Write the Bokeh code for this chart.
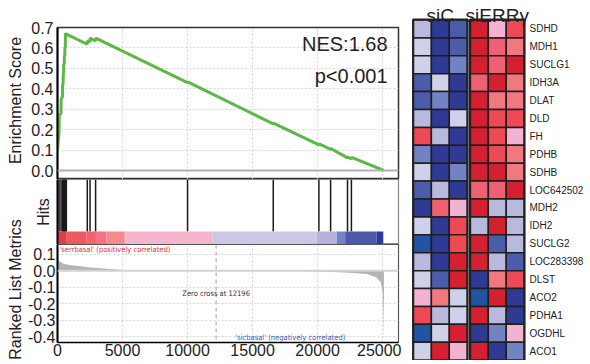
import math
from bokeh.plotting import figure
from bokeh.layouts import column, row
from bokeh.models import (Range1d, FixedTicker, PrintfTickFormatter, NumeralTickFormatter,
                          Label, ColumnDataSource, LinearColorMapper, Span)
from bokeh.transform import transform
from bokeh.core.properties import value
from bokeh.embed import file_html
from bokeh.resources import INLINE

FONT = "Liberation Sans"
SMALL_FONT = "DejaVu Sans Condensed"

# ---------------- data ----------------
# running enrichment score (rank position, ES)
es_x = [0, 120, 130, 270, 280, 380, 390, 430, 440, 470, 480, 520, 530, 560, 570, 600, 610, 680,
        2290, 2300, 2500, 2510, 2750, 2930, 2940, 10000, 10010, 16590, 16600, 20100, 20110,
        21000, 21010, 22300, 22310, 22600, 22610, 25100]
es_y = [0.10, 0.19, 0.27, 0.28, 0.35, 0.36, 0.42, 0.42, 0.47, 0.48, 0.52, 0.52, 0.56, 0.56, 0.60,
        0.60, 0.67, 0.668, 0.618, 0.635, 0.630, 0.648, 0.640, 0.634, 0.648, 0.430, 0.434,
        0.228, 0.232, 0.125, 0.130, 0.103, 0.108, 0.062, 0.066, 0.057, 0.064, 0.0]

# positions of gene-set members in the ranked list
hit_pos = [120, 270, 380, 430, 470, 520, 560, 600, 640, 680,
           2290, 2500, 2930, 10000, 16590, 20100, 21000, 22300, 22600]

# ranked-list colour bar
bar_start = [0, 713, 2243, 2956, 3772, 5173, 11927, 19954, 21483, 22120, 24541]
bar_end = [713, 2243, 2956, 3772, 5173, 11927, 19954, 21483, 22120, 24541, 25051]
bar_colors = ["#d8404a", "#ef5a62", "#f0626e", "#f07484", "#f48a8c", "#f4b6ce",
              "#c9c9e5", "#b5b3dc", "#7482c8", "#4e58a8", "#2a3aa0"]

# ranked list metric
rank_x = [0, 200, 460, 900, 1600, 2500, 3100, 4000, 5200, 6500, 10000, 15000, 18500, 20700,
          22500, 23800, 24500, 24850, 25000, 25040, 25070, 25100]
metric = [0.065, 0.055, 0.042, 0.035, 0.028, 0.02, 0.016, 0.01, 0.005, 0.002, 0.001, 0.0,
          -0.002, -0.006, -0.012, -0.02, -0.04, -0.07, -0.13, -0.2, -0.3, -0.42]

zero_cross = 12196
list_size_max = 26220
x_ticks = [0, 5000, 10000, 15000, 20000, 25000]
es_ticks = [0.0, 0.1, 0.2, 0.3, 0.4, 0.5, 0.6, 0.7]
metric_ticks = [0.1, 0.0, -0.1, -0.2, -0.3, -0.4]
nes_text = "NES:1.68"
p_text = "p<0.001"
side_titles = ["Enrichment Score", "Ranked List Metrics"]

# heatmap
genes = ["SDHD", "MDH1", "SUCLG1", "IDH3A", "DLAT", "DLD", "FH", "PDHB", "SDHB", "LOC642502",
         "MDH2", "IDH2", "SUCLG2", "LOC283398", "DLST", "ACO2", "PDHA1", "OGDHL", "ACO1"]
sic_1 = [-1, 0, 0, -3, -3, -1, 4, -2, 0, -3, -5, 0, -4, -1, 0, 1, 4, -4, 0]
sic_2 = [-5, -5, -5, 0, -2, -5, -1, -5, -5, -1, 3, -5, -5, -5, -3, 2, -1, 0, 5]
sic_3 = [-3, -3, -2, -5, -5, 0, -5, -5, -2, -5, 1, 4, 4, 5, 5, 0, 0, 5, 1]
sierr_1 = [5, 5, 5, 3, 5, 5, 5, 5, 5, 3, 5, -1, 5, 5, -5, -4, 5, -5, 5]
sierr_2 = [1, 3, 3, 5, 2, 4, 4, 4, 5, 3, -1, 5, -3, -1, 2, 5, -1, -2, -5]
sierr_3 = [4, 2, 5, 2, 2, 4, 1, 2, 2, 5, -1, -1, -1, -3, 4, -5, -5, 1, -2]
group_names = ["siC", "siERR\u03b3"]
heat_palette = ["#2e3a94", "#2353a3", "#4b5cab", "#7382c3", "#b9b9dd", "#cfd1ea",
                "#f2b2d2", "#f27880", "#ef6072", "#ee4a55", "#d42030"]

# ---------------- side strip with the long axis titles ----------------
STRIP_W = 28
strip = figure(width=STRIP_W, height=364, x_range=Range1d(0, STRIP_W), y_range=Range1d(364, 0),
               x_axis_location=None, y_axis_location=None, output_backend="svg",
               toolbar_location=None, min_border=0)
strip.outline_line_color = None
strip.grid.visible = False
strip.text(x=[18.5, 18.5], y=[104, 293], text=side_titles, angle=math.pi / 2,
           text_align="center", text_baseline="middle", text_font=value(FONT),
           text_font_size="16px", text_color="#222222")

# ---------------- GSEA panels ----------------
PW = 405 - STRIP_W
common = dict(output_backend="svg", toolbar_location=None, min_border_left=59 - STRIP_W,
              min_border_right=3, min_border_top=0, min_border_bottom=0)

x_rng = Range1d(0, list_size_max)

def style_left_axis(p, standoff=4):
    ax = p.yaxis[0]
    ax.major_label_text_font = FONT
    ax.major_label_text_font_size = "16px"
    ax.major_label_text_color = "#222222"
    ax.major_tick_line_color = None
    ax.minor_tick_line_color = None
    ax.major_tick_out = 0
    ax.major_tick_in = 0
    ax.minor_tick_out = 0
    ax.minor_tick_in = 0
    ax.major_label_standoff = standoff
    ax.axis_line_color = "#000000"
    ax.axis_line_width = 2

# Enrichment score
p_es = figure(width=PW, height=183, x_range=x_rng, y_range=Range1d(-0.044, 0.7),
              x_axis_location=None, **{**common, "min_border_top": 31})
style_left_axis(p_es)
p_es.yaxis.ticker = FixedTicker(ticks=es_ticks)
p_es.yaxis.formatter = PrintfTickFormatter(format="%.1f")
p_es.xgrid.ticker = FixedTicker(ticks=x_ticks)
for g in (p_es.xgrid[0], p_es.ygrid[0]):
    g.grid_line_color = "#d4d4d4"
    g.grid_line_dash = "2 2"
p_es.outline_line_color = "#333333"
p_es.outline_line_width = 1.5
p_es.add_layout(Span(location=0, dimension="width", line_color="#b0b0b0", line_width=2))
p_es.line(es_x, es_y, line_color="#5cb847", line_width=3)
p_es.add_layout(Label(x=25380, y=0.62, text=nes_text, text_align="right", text_baseline="middle",
                      text_font=FONT, text_font_size="20px", text_color="#222222"))
p_es.add_layout(Label(x=25380, y=0.465, text=p_text, text_align="right", text_baseline="middle",
                      text_font=FONT, text_font_size="20px", text_color="#222222"))

# Hits + colour bar
p_hits = figure(width=PW, height=65, x_range=x_rng, y_range=Range1d(0, 1),
                x_axis_location=None, **common)
style_left_axis(p_hits)
hy = p_hits.yaxis[0]
hy.ticker = FixedTicker(ticks=[])
hy.axis_label = "Hits"
hy.axis_label_text_font = FONT
hy.axis_label_text_font_size = "16px"
hy.axis_label_text_font_style = "normal"
hy.axis_label_text_color = "#222222"
hy.axis_label_standoff = 6
p_hits.grid.visible = False
p_hits.outline_line_color = "#888888"
p_hits.outline_line_width = 1.2
p_hits.segment(x0=hit_pos, y0=0.2, x1=hit_pos, y1=1, line_color="#1a1a1a", line_width=1.5)
p_hits.quad(left=bar_start, right=bar_end, bottom=0, top=0.2, fill_color=bar_colors,
            line_color=None)

# Ranked list metric
p_m = figure(width=PW, height=116, x_range=x_rng, y_range=Range1d(-0.435, 0.159),
             **{**common, "min_border_bottom": 18})
style_left_axis(p_m, standoff=2)
p_m.yaxis.ticker = FixedTicker(ticks=metric_ticks)
p_m.yaxis.formatter = PrintfTickFormatter(format="%.1f")
xa = p_m.xaxis[0]
xa.ticker = FixedTicker(ticks=x_ticks)
xa.formatter = NumeralTickFormatter(format="0")
xa.major_label_text_font = FONT
xa.major_label_text_font_size = "16px"
xa.major_label_text_color = "#222222"
xa.major_tick_line_color = None
xa.minor_tick_line_color = None
xa.major_tick_out = 0
xa.major_tick_in = 0
xa.minor_tick_out = 0
xa.minor_tick_in = 0
xa.major_label_standoff = 1
xa.axis_line_color = "#000000"
xa.axis_line_width = 1.5
p_m.xgrid.ticker = FixedTicker(ticks=x_ticks)
for g in (p_m.xgrid[0], p_m.ygrid[0]):
    g.grid_line_color = "#d4d4d4"
    g.grid_line_dash = "2 2"
p_m.outline_line_color = "#555555"
p_m.outline_line_width = 1.2
p_m.add_layout(Span(location=0, dimension="width", line_color="#d2d2d2", line_width=2))
p_m.varea(x=rank_x, y1=[0] * len(rank_x), y2=metric, fill_color="#b4b4b4")
p_m.add_layout(Span(location=zero_cross, dimension="height", line_color="#a0a0a0",
                    line_dash="4 3", line_width=1))
p_m.add_layout(Label(x=150, y=0.13, text="'serrbasal' (positively correlated)",
                     text_baseline="middle", text_font=SMALL_FONT, text_font_size="7.5px",
                     text_color="#e8303c"))
p_m.add_layout(Label(x=zero_cross, y=-0.141, text="Zero cross at %d" % zero_cross,
                     text_align="center", text_baseline="middle", text_font=SMALL_FONT,
                     text_font_size="7.5px", text_color="#333333"))
p_m.add_layout(Label(x=17900, y=-0.405, text="'sicbasal' (negatively correlated)",
                     text_align="center", text_baseline="middle", text_font=SMALL_FONT,
                     text_font_size="7.5px", text_color="#3a5ab8"))

# ---------------- heatmap ----------------
GAP = 3.18
samples = [sic_1, sic_2, sic_3, sierr_1, sierr_2, sierr_3]
cx, cy, cv = [], [], []
for j, col in enumerate(samples):
    xc = (j % 3) + 0.5 + (GAP if j >= 3 else 0)
    for i, v in enumerate(col):
        cx.append(xc)
        cy.append(i + 0.5)
        cv.append(v)
src = ColumnDataSource(dict(x=cx, y=cy, v=cv))
mapper = LinearColorMapper(palette=heat_palette, low=-5.5, high=5.5)

n = len(genes)
p_h = figure(width=185, height=364, x_range=Range1d(-0.670, 9.665),
             y_range=Range1d(19.02, -1.313), x_axis_location=None, y_axis_location=None,
             output_backend="svg", toolbar_location=None, min_border=0)
p_h.outline_line_color = None
p_h.grid.visible = False
p_h.rect(x="x", y="y", width=1, height=1, source=src, fill_color=transform("v", mapper),
         line_color="#1e1e1e", line_width=1.5)
group_x = [1.5, GAP + 1.5]
p_h.rect(x=group_x, y=[n / 2] * 2, width=3.05, height=n + 0.05, fill_color=None,
         line_color="#222222", line_width=2)
p_h.text(x=[GAP + 3.3] * n, y=[i + 0.5 for i in range(n)], text=genes, text_baseline="middle",
         text_font=value(FONT), text_font_size="10px", text_color="#222222")
p_h.text(x=group_x, y=[-0.25] * 2, text=group_names, text_align="center",
         text_baseline="alphabetic", text_font=value(FONT), text_font_size="19px",
         text_color="#222222")

layout = row(strip, column(p_es, p_hits, p_m), p_h, margin=(-4, 0, 0, -4))

open("out.html", "w").write(file_html(layout, INLINE))
